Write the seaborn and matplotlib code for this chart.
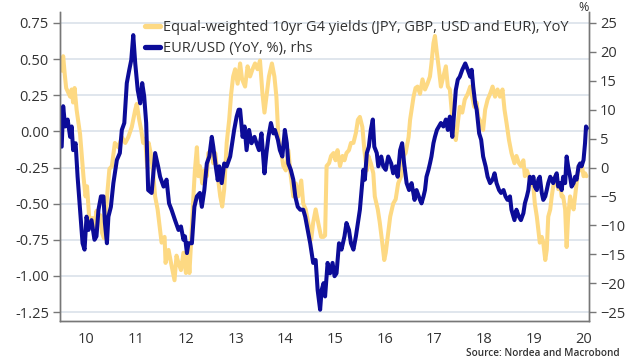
import numpy as np
import pandas as pd
import matplotlib
matplotlib.use("Agg")
import matplotlib.pyplot as plt
from matplotlib.ticker import FixedLocator, NullFormatter, FixedFormatter
import seaborn as sns

# equal-weighted 10yr G4 yields, YoY (left axis)
yld_t = [2010.00, 2010.03, 2010.06, 2010.09, 2010.13, 2010.17, 2010.20, 2010.23, 2010.26, 2010.30,
         2010.34, 2010.37, 2010.40, 2010.44, 2010.48, 2010.51, 2010.55, 2010.58, 2010.62, 2010.66,
         2010.70, 2010.74, 2010.78, 2010.81, 2010.85, 2010.88, 2010.92, 2010.96, 2011.01, 2011.07,
         2011.14, 2011.21, 2011.28, 2011.34, 2011.41, 2011.48, 2011.51, 2011.56, 2011.60, 2011.64,
         2011.68, 2011.72, 2011.75, 2011.79, 2011.83, 2011.88, 2011.93, 2011.98, 2012.01, 2012.07,
         2012.09, 2012.15, 2012.20, 2012.27, 2012.31, 2012.35, 2012.40, 2012.45, 2012.50, 2012.54,
         2012.57, 2012.62, 2012.65, 2012.68, 2012.72, 2012.75, 2012.78, 2012.83, 2012.87, 2012.92,
         2012.95, 2013.02, 2013.05, 2013.09, 2013.14, 2013.19, 2013.23, 2013.27, 2013.32, 2013.37,
         2013.41, 2013.45, 2013.49, 2013.54, 2013.59, 2013.63, 2013.69, 2013.74, 2013.79, 2013.84,
         2013.89, 2013.94, 2013.99, 2014.04, 2014.08, 2014.12, 2014.17, 2014.23, 2014.28, 2014.32,
         2014.36, 2014.41, 2014.46, 2014.51, 2014.56, 2014.61, 2014.66, 2014.71, 2014.76, 2014.82,
         2014.86, 2014.91, 2014.96, 2015.02, 2015.06, 2015.11, 2015.16, 2015.22, 2015.27, 2015.30,
         2015.33, 2015.38, 2015.42, 2015.47, 2015.51, 2015.55, 2015.60, 2015.65, 2015.69, 2015.73,
         2015.78, 2015.82, 2015.87, 2015.92, 2015.96, 2016.00, 2016.05, 2016.09, 2016.14, 2016.17,
         2016.22, 2016.27, 2016.30, 2016.36, 2016.40, 2016.45, 2016.49, 2016.52, 2016.56, 2016.61,
         2016.67, 2016.72, 2016.77, 2016.83, 2016.88, 2016.92, 2016.98, 2017.01, 2017.04, 2017.08,
         2017.12, 2017.16, 2017.21, 2017.26, 2017.31, 2017.36, 2017.41, 2017.44, 2017.48, 2017.51,
         2017.55, 2017.59, 2017.63, 2017.68, 2017.73, 2017.77, 2017.81, 2017.85, 2017.90, 2017.93,
         2017.97, 2018.01, 2018.06, 2018.11, 2018.17, 2018.22, 2018.26, 2018.30, 2018.35, 2018.38,
         2018.44, 2018.48, 2018.52, 2018.57, 2018.62, 2018.67, 2018.72, 2018.77, 2018.82, 2018.87,
         2018.91, 2018.95, 2019.00, 2019.05, 2019.11, 2019.15, 2019.20, 2019.24, 2019.29, 2019.32,
         2019.36, 2019.40, 2019.44, 2019.49, 2019.52, 2019.56, 2019.59, 2019.62, 2019.66, 2019.69,
         2019.73, 2019.76, 2019.79, 2019.83, 2019.86, 2019.89, 2019.93, 2019.96, 2019.99, 2020.03,
         2020.06, 2020.09, 2020.13, 2020.16, 2020.19, 2020.23, 2020.26, 2020.30, 2020.33, 2020.36,
         2020.40, 2020.43, 2020.46, 2020.50, 2020.53, 2020.56]
yld = [0.42, 0.52, 0.40, 0.30, 0.27, 0.24, 0.29, 0.20, 0.30, 0.15,
       0.05, -0.02, -0.15, -0.32, -0.45, -0.38, -0.58, -0.65, -0.60, -0.66,
       -0.55, -0.62, -0.58, -0.70, -0.74, -0.60, -0.42, -0.26, -0.24, -0.08,
       -0.11, -0.04, -0.08, -0.04, 0.03, 0.15, 0.19, 0.08, 0.01, -0.08,
       -0.05, -0.25, -0.08, -0.15, -0.25, -0.45, -0.54, -0.68, -0.77, -0.73,
       -0.91, -0.82, -0.91, -1.03, -0.86, -0.91, -0.96, -0.84, -0.98, -0.82,
       -0.98, -0.66, -0.45, -0.27, -0.11, -0.31, -0.24, -0.36, -0.27, -0.31,
       -0.15, -0.13, -0.22, -0.15, -0.31, -0.45, -0.52, -0.40, -0.08, 0.08,
       0.26, 0.38, 0.43, 0.33, 0.47, 0.36, 0.31, 0.45, 0.38, 0.43,
       0.47, 0.43, 0.49, 0.26, 0.13, 0.24, 0.38, 0.47, 0.38, 0.24,
       -0.04, -0.13, -0.24, -0.27, -0.13, -0.31, -0.45, -0.36, -0.45, -0.34,
       -0.50, -0.54, -0.63, -0.75, -0.63, -0.54, -0.63, -0.73, -0.73, -0.72,
       -0.24, -0.22, -0.17, -0.15, -0.20, -0.13, -0.24, -0.17, -0.20, -0.15,
       -0.13, -0.08, -0.08, -0.01, 0.08, 0.10, 0.03, -0.13, -0.27, -0.17,
       -0.22, -0.29, -0.45, -0.54, -0.63, -0.77, -0.89, -0.84, -0.73, -0.59,
       -0.50, -0.47, -0.36, -0.31, -0.17, -0.15, -0.04, 0.08, 0.15, 0.24,
       0.30, 0.31, 0.26, 0.36, 0.29, 0.33, 0.38, 0.47, 0.61, 0.66,
       0.54, 0.43, 0.31, 0.38, 0.45, 0.31, 0.29, 0.13, -0.02, -0.06,
       0.06, 0.17, 0.13, 0.22, 0.26, 0.31, 0.24, 0.17, 0.20, 0.10,
       0.06, 0.01, 0.15, 0.22, 0.26, 0.31, 0.24, 0.29, 0.24, 0.29,
       0.15, 0.06, -0.06, -0.15, -0.22, -0.17, -0.22, -0.24, -0.20, -0.31,
       -0.27, -0.31, -0.36, -0.38, -0.50, -0.59, -0.68, -0.77, -0.73, -0.77,
       -0.89, -0.82, -0.59, -0.54, -0.45, -0.38, -0.31, -0.34, -0.40, -0.36,
       -0.45, -0.45, -0.54, -0.80, -0.59, -0.45, -0.50, -0.54, -0.45, -0.36,
       -0.24, -0.27, -0.22, -0.31, -0.29, -0.31]

# EUR/USD YoY in % (right axis)
fx_t = [2010.00, 2010.03, 2010.07, 2010.12, 2010.17, 2010.20, 2010.23, 2010.28, 2010.32, 2010.37,
        2010.42, 2010.46, 2010.50, 2010.54, 2010.60, 2010.66, 2010.70, 2010.74, 2010.79, 2010.84,
        2010.87, 2010.91, 2010.94, 2010.99, 2011.04, 2011.11, 2011.17, 2011.21, 2011.26, 2011.31,
        2011.36, 2011.40, 2011.44, 2011.48, 2011.53, 2011.58, 2011.62, 2011.66, 2011.70, 2011.74,
        2011.81, 2011.88, 2011.94, 2011.98, 2012.05, 2012.11, 2012.16, 2012.21, 2012.28, 2012.35,
        2012.40, 2012.45, 2012.48, 2012.52, 2012.55, 2012.62, 2012.67, 2012.72, 2012.78, 2012.82,
        2012.87, 2012.92, 2012.97, 2013.02, 2013.05, 2013.10, 2013.14, 2013.17, 2013.22, 2013.27,
        2013.32, 2013.39, 2013.43, 2013.47, 2013.52, 2013.56, 2013.59, 2013.64, 2013.68, 2013.72,
        2013.77, 2013.82, 2013.88, 2013.92, 2013.97, 2014.02, 2014.08, 2014.12, 2014.16, 2014.21,
        2014.26, 2014.29, 2014.35, 2014.39, 2014.44, 2014.49, 2014.53, 2014.56, 2014.61, 2014.66,
        2014.70, 2014.75, 2014.80, 2014.86, 2014.90, 2014.95, 2015.00, 2015.03, 2015.06, 2015.11,
        2015.15, 2015.20, 2015.23, 2015.27, 2015.30, 2015.35, 2015.40, 2015.45, 2015.49, 2015.53,
        2015.58, 2015.63, 2015.69, 2015.73, 2015.78, 2015.82, 2015.87, 2015.92, 2015.96, 2016.00,
        2016.04, 2016.07, 2016.10, 2016.14, 2016.18, 2016.22, 2016.26, 2016.29, 2016.34, 2016.37,
        2016.43, 2016.47, 2016.52, 2016.57, 2016.63, 2016.67, 2016.72, 2016.76, 2016.81, 2016.85,
        2016.89, 2016.94, 2016.99, 2017.04, 2017.10, 2017.14, 2017.21, 2017.24, 2017.28, 2017.31,
        2017.34, 2017.38, 2017.41, 2017.44, 2017.48, 2017.51, 2017.55, 2017.59, 2017.63, 2017.68,
        2017.73, 2017.77, 2017.81, 2017.86, 2017.90, 2017.93, 2017.97, 2018.01, 2018.06, 2018.12,
        2018.17, 2018.22, 2018.25, 2018.28, 2018.32, 2018.35, 2018.40, 2018.44, 2018.48, 2018.53,
        2018.57, 2018.62, 2018.67, 2018.71, 2018.75, 2018.80, 2018.84, 2018.89, 2018.93, 2018.97,
        2019.02, 2019.05, 2019.11, 2019.15, 2019.20, 2019.24, 2019.29, 2019.32, 2019.36, 2019.39,
        2019.42, 2019.46, 2019.49, 2019.52, 2019.56, 2019.59, 2019.62, 2019.66, 2019.69, 2019.73,
        2019.76, 2019.79, 2019.83, 2019.86, 2019.89, 2019.93, 2019.96, 2019.99, 2020.03, 2020.06,
        2020.09, 2020.13, 2020.16, 2020.19, 2020.23, 2020.26, 2020.30, 2020.33, 2020.36, 2020.40,
        2020.43, 2020.46, 2020.50, 2020.53, 2020.55, 2020.57]
fx = [3.6, 10.6, 7.1, 8.3, 5.3, 7.1, 3.0, 4.2, -1.6, -7.3,
      -13.1, -14.2, -8.5, -10.8, -9.1, -12.5, -11.9, -7.3, -5.0, -5.0,
      -9.6, -13.1, -8.5, -6.8, -2.7, 1.3, 2.5, 6.5, 7.7, 14.6,
      16.9, 18.6, 22.9, 18.0, 13.4, 11.1, 14.6, 12.3, 7.7, -3.9,
      -4.4, 2.5, 0.2, -1.6, -3.3, -2.1, -6.2, -7.3, -9.1, -10.8,
      -10.2, -12.5, -11.9, -14.8, -13.1, -13.1, -6.8, -5.0, -4.4, -6.8,
      -3.9, 0.7, 1.9, 5.3, 3.6, 0.2, -2.2, 0.2, -2.7, 0.7,
      0.2, 1.9, 4.2, 6.5, 8.8, 10.0, 10.0, 5.3, 7.1, 3.0,
      6.5, 4.2, 5.3, 4.2, 3.0, 5.9, -1.0, 2.5, 5.3, 7.7,
      5.9, 6.5, 4.8, 3.0, 1.9, 6.5, 4.2, 0.7, -0.4, -2.1,
      -5.0, -6.8, -7.3, -7.3, -8.5, -10.8, -13.1, -14.8, -16.5, -16.0,
      -21.2, -24.6, -21.2, -20.0, -22.3, -16.5, -18.3, -16.5, -18.8, -18.3,
      -13.1, -14.2, -11.9, -9.6, -10.8, -13.1, -14.2, -11.9, -9.6, -7.3,
      -3.3, -0.4, -2.1, 2.5, 3.6, 6.5, 8.3, 3.6, 2.5, 0.2,
      1.9, 0.2, -0.4, 1.9, 0.7, -1.0, 0.2, -1.6, 3.0, 4.2,
      0.7, -2.7, -3.9, -2.7, -5.6, -3.9, -5.6, -6.2, -5.0, -3.9,
      -1.6, -0.4, 0.7, 1.9, 4.2, 5.3, 6.5, 7.1, 7.7, 7.1,
      8.3, 6.5, 8.8, 5.3, 10.0, 13.4, 15.2, 15.7, 16.9, 18.0,
      16.9, 15.7, 16.9, 14.0, 11.1, 10.0, 5.9, 4.8, 1.9, 0.2,
      -1.6, -2.7, -2.1, -1.0, -2.7, -3.9, -4.4, -3.9, -5.0, -5.6,
      -5.0, -7.3, -9.1, -7.3, -8.5, -9.1, -7.9, -6.2, -5.0, -3.9,
      -1.6, -2.7, -1.6, -3.3, -3.9, -2.1, -1.6, -4.4, -5.6, -5.0,
      -3.9, -2.7, -1.6, -2.1, -2.7, -1.6, -1.0, -3.3, -2.7, -3.9,
      -1.6, -2.7, 1.9, 0.2, -1.6, -3.3, -2.7, -1.6, -2.1, 0.2,
      0.7, 0.2, 1.3, 4.2, 7.1, 6.8]

years = list(range(2010, 2021))
year_labels = [str(y)[2:] for y in years]

YELLOW = "#fdd983"
BLUE = "#0c0c98"
GRID = "#dde4ec"
TXT = "#333333"
FS = 10.5

sns.set_style("white")
plt.rcParams["font.family"] = ["Open Sans", "DejaVu Sans"]
plt.rcParams["font.size"] = FS

df_y = pd.DataFrame({"t": yld_t, "v": yld})
df_f = pd.DataFrame({"t": fx_t, "v": fx})

fig = plt.figure(figsize=(6.4, 3.6), dpi=100)
ax = fig.add_axes([60 / 640, 1 - 321 / 360, 529 / 640, 309 / 360])
ax2 = ax.twinx()

sns.lineplot(data=df_y, x="t", y="v", ax=ax, color=YELLOW, lw=2.9, estimator=None, sort=False,
             label="Equal-weighted 10yr G4 yields (JPY, GBP, USD and EUR), YoY", legend=False)
sns.lineplot(data=df_f, x="t", y="v", ax=ax2, color=BLUE, lw=2.9, estimator=None, sort=False,
             label="EUR/USD (YoY, %), rhs", legend=False)

ax.set_xlim(2009.966, 2020.61)
ax.set_ylim(-1.312, 0.826)
ax2.set_ylim(-26.55, 26.9)

ax.set_yticks([0.75, 0.5, 0.25, 0.0, -0.25, -0.5, -0.75, -1.0, -1.25])
ax.set_yticklabels(["0.75", "0.50", "0.25", "0.00", "-0.25", "-0.50", "-0.75", "-1.00", "-1.25"])
ax2.set_yticks([25, 20, 15, 10, 5, 0, -5, -10, -15, -20, -25])

ax.xaxis.set_major_locator(FixedLocator(years))
ax.xaxis.set_major_formatter(NullFormatter())
ax.xaxis.set_minor_locator(FixedLocator([y + 0.5 for y in years]))
ax.xaxis.set_minor_formatter(FixedFormatter(year_labels))
ax.tick_params(axis="x", which="major", length=5, width=1, color="#777777", direction="out")
ax.tick_params(axis="x", which="minor", length=0, pad=8, labelsize=FS, labelcolor=TXT)
ax.tick_params(axis="y", length=5, width=1, color="#777777", pad=3, labelsize=FS, labelcolor=TXT, left=True)
ax2.tick_params(axis="y", length=5, width=1, color="#777777", pad=3, labelsize=FS, labelcolor=TXT, right=True)

ax.set_xlabel("")
ax.set_ylabel("")
ax2.set_ylabel("")
ax.grid(axis="y", color=GRID, lw=1.3)
ax.set_axisbelow(True)

for a in (ax, ax2):
    a.spines["top"].set_visible(False)
    for s in ("left", "right", "bottom"):
        a.spines[s].set_color("#777777")
        a.spines[s].set_linewidth(1)

h1, l1 = ax.get_legend_handles_labels()
h2, l2 = ax2.get_legend_handles_labels()
leg = ax2.legend(h1 + h2, l1 + l2, loc="upper left", bbox_to_anchor=(145 / 640, 1 - 20 / 360),
                 bbox_transform=fig.transFigure, frameon=False, borderpad=0, borderaxespad=0,
                 handlelength=1.05, handletextpad=0.2, labelspacing=0.4, fontsize=FS)
for line in leg.get_lines():
    line.set_linewidth(3.8)
for t in leg.get_texts():
    t.set_color(TXT)

fig.text(584 / 640, 1 - 1 / 360, "%", ha="center", va="top", fontsize=9, color=TXT)
fig.text(620 / 640, 1 - 348 / 360, "Source: Nordea and Macrobond", ha="right", va="top",
         fontsize=7.2, color=TXT, fontweight="semibold")

fig.savefig("out.png", dpi=100)
